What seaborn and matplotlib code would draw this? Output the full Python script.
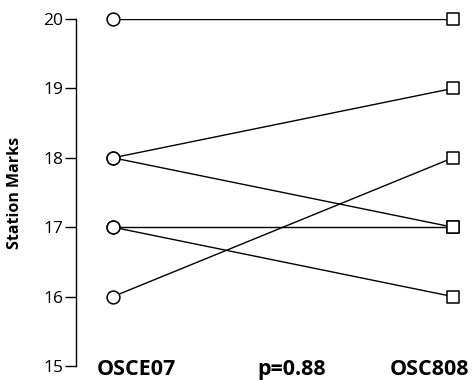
import pandas as pd
import matplotlib
matplotlib.use("Agg")
import matplotlib.pyplot as plt
import seaborn as sns

# paired station marks
osce07 = [20, 18, 18, 17, 17, 16]
osc808 = [20, 19, 17, 17, 16, 18]
groups = ["OSCE07", "OSC808"]
p_label = "p=0.88"

rows = []
for i, (a, b) in enumerate(zip(osce07, osc808)):
    rows.append({"pair": i, "x": 0, "mark": a})
    rows.append({"pair": i, "x": 1, "mark": b})
df = pd.DataFrame(rows)

sns.set_style("ticks")
plt.rcParams['font.family'] = ['Open Sans', 'DejaVu Sans']
plt.rcParams['text.color'] = 'black'
plt.rcParams['ytick.color'] = 'black'
plt.rcParams['axes.edgecolor'] = 'black'
plt.rcParams['axes.labelcolor'] = 'black'

fig = plt.figure(figsize=(4.76, 3.80), dpi=100)
ax = fig.add_axes([76 / 476, 1 - 366 / 380, (470 - 76) / 476, (366 - 19) / 380])

sns.lineplot(data=df, x="x", y="mark", units="pair", estimator=None,
             color="black", lw=1, ax=ax, zorder=1)
for xv, mk in [(0, "o"), (1, "s")]:
    sub = df[df["x"] == xv]
    ax.scatter(sub["x"], sub["mark"], marker=mk, s=85, facecolor="white",
               edgecolor="black", linewidth=1.1, zorder=3, clip_on=False)

ax.set_xlim(-37 / 340, 1 + 17 / 340)
ax.set_ylim(15, 20)
ax.set_yticks([15, 16, 17, 18, 19, 20])
ax.set_xticks([])
ax.set_xlabel("")
ax.set_ylabel("Station Marks", fontsize=11.5, fontweight="bold", labelpad=15)
ax.tick_params(axis="y", length=8, width=1, labelsize=12.5, pad=1)
for s in ["top", "right", "bottom"]:
    ax.spines[s].set_visible(False)
ax.spines["left"].set_linewidth(1)

# bottom labels
for xv, lab in [(0.068, groups[0]), (0.525, p_label), (0.932, groups[1])]:
    ax.text(xv, 14.95, lab, ha="center", va="center", fontsize=15.5,
            fontweight="bold")

fig.savefig("out.png", dpi=100)
